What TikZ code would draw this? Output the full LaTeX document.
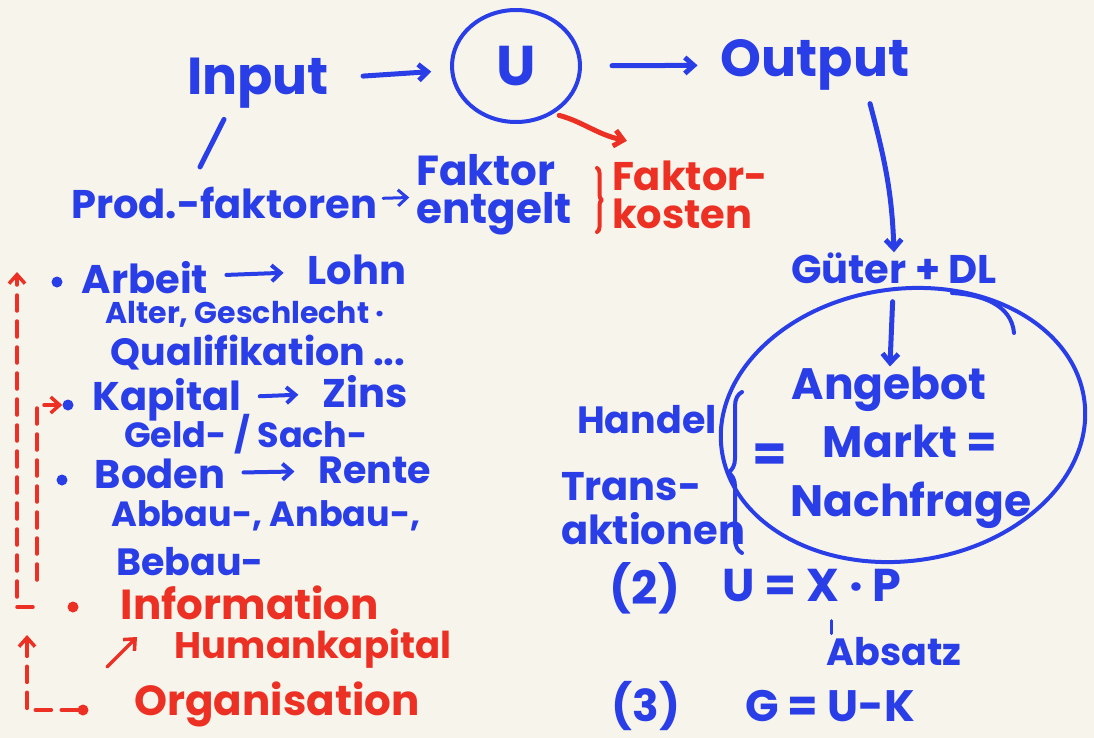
\documentclass[tikz,border=0pt]{standalone}
\usepackage{fontspec}
\setmainfont{Poppins}
\usetikzlibrary{arrows.meta,shapes.geometric,decorations.pathreplacing}
\definecolor{pen}{RGB}{42,62,232}
\definecolor{redpen}{RGB}{236,48,36}
\definecolor{paper}{RGB}{247,245,235}
\begin{document}
\begin{tikzpicture}[x=1pt, y=-1pt, line join=round, line cap=round, >={Straight Barb[length=9pt,width=16pt]},
	hand/.style={inner sep=0pt, text=pen, font=\bfseries\fontsize{#1}{#1}\selectfont}, hand/.default=40,
	two/.style={align=left, font=\bfseries\fontsize{#1}{38}\selectfont}, two/.default=40,
	con/.style={draw=pen, line width=5pt, ->},
	flow/.style={draw=redpen, line width=3.5pt, dash pattern=on 16pt off 10pt, ->},
	dot/.style={circle, inner sep=0pt, minimum size=11pt}]
	 	\fill[paper] (0,0) rectangle (1094,738);
	 	\useasboundingbox (0,0) rectangle (1094,738);
	 	% top row
	 	\node[hand=52] (inp) at (258,83) {Input};
	 	\node[hand=56, draw=pen, line width=4pt, ellipse, minimum width=128pt, minimum height=112pt] (U) at (516,66) {U};
	 	\node[hand=52] (out) at (815,65) {Output};
	 	\node[hand=40] (prod) at (224,203) {Prod.-faktoren};
	 	\node[hand, two=42] (fent) at (494,195) {Faktor\\entgelt};
	 	\node[hand, two=40, text=redpen] (kost) at (690,195) {Faktor-\\kosten};
	 	% market
	 	\node[hand=40] (gut) at (894,268) {Güter + DL};
	 	\node[hand=44] (ang) at (889,389) {Angebot};
	 	\node[hand=44] (mrk) at (910,441) {Markt =};
	 	\node[hand=44] (nach) at (911,505) {Nachfrage};
	 	\node[draw=pen, line width=4pt, ellipse, rotate=8, minimum width=366pt, minimum height=272pt] (mkt) at (903,425) {};
	 	\node[hand=50] (eq) at (770,458) {=};
	 	\node[hand=38] (han) at (647,420) {Handel};
	 	\node[hand, two=40] (trans) at (653,509) {Trans-\\[6pt]aktionen};
	 	\node[hand=46] (n2) at (645,588) {(2)};
	 	\node[hand=46] (e2) at (812,586) {U = X · P};
	 	\node[hand=38] (abs) at (894,652) {Absatz};
	 	\node[hand=44] (n3) at (646,706) {(3)};
	 	\node[hand=44] (e3) at (830,706) {G = U-K};
	 	% factors
	 	\node[hand=40] (arb) at (145,278) {Arbeit};
	 	\node[hand=40] (lohn) at (357,270) {Lohn};
	 	\node[hand=30] (alt) at (245,314) {Alter, Geschlecht ·};
	 	\node[hand=38] (qual) at (258,353) {Qualifikation ...};
	 	\node[hand=40] (kap) at (167,400) {Kapital};
	 	\node[hand=40] (zins) at (365,392) {Zins};
	 	\node[hand=35] (geld) at (246,434) {Geld- / Sach-};
	 	\node[hand=40] (bod) at (160,474) {Boden};
	 	\node[hand=38] (rente) at (375,470) {Rente};
	 	\node[hand=35] (abb) at (266,516) {Abbau-, Anbau-,};
	 	\node[hand=38] (beb) at (190,562) {Bebau-};
	 	\node[hand=42, text=redpen] (inf) at (250,603) {Information};
	 	\node[hand=37, text=redpen] (hum) at (313,649) {Humankapital};
	 	\node[hand=42, text=redpen] (org) at (277,704) {Organisation};
	 	\foreach \n/\x/\y/\c in {arb/57/282/pen, kap/68/405/pen, bod/62/480/pen, inf/73/607/redpen, org/83/710/redpen}
	 		\node[dot, fill=\c] (b\n) at (\x,\y) {};
	 	% connectors
	 	\draw[con, shorten <=34pt, shorten >=19pt] (inp) -- (U);
	 	\draw[con, shorten <=30pt, shorten >=23pt] (U) -- (out);
	 	\draw[pen, line width=5pt] ([xshift=-34pt,yshift=-11pt]inp.south) -- ([xshift=-24pt,yshift=20pt]prod.north);
	 	\draw[con, line width=3pt, shorten <=6pt, shorten >=7pt] (prod) -- (fent);
	 	\draw[redpen, line width=5pt, ->, shorten <=6pt] (U.-52) to[out=-15,in=168] ([xshift=15pt,yshift=20pt]kost.north west);
	 	\draw[redpen, line width=4pt, decorate, decoration={brace, amplitude=5pt}] (597,168) -- (597,232);
	 	\draw[con] ([xshift=55pt,yshift=-13pt]out.south) to[out=-75,in=92] (gut.north);
	 	\draw[con, shorten <=18pt] (gut) -- (ang);
	 	\draw[pen, line width=4pt] (952,293) to[out=-3,in=95] (1014,333);
	 	\draw[pen, line width=4pt, decorate, decoration={brace, amplitude=14pt}] (742,553) -- (742,392);
	 	\draw[pen, line width=3pt] ([xshift=-63pt,yshift=4pt]abs.north) -- ++(0,-13);
	 	\foreach \a/\b in {arb/lohn, kap/zins, bod/rente}
	 		\draw[con, line width=4pt, shorten <=18pt, shorten >=24pt] (\a) -- (\b);
	 	\draw[flow] ([xshift=-40pt]binf.center) -| ([xshift=-40pt,yshift=10pt]barb.center);
	 	\draw[flow] ([xshift=-36pt,yshift=27pt]binf.center) |- (bkap.west);
	 	\draw[flow] (borg.west) -| ([xshift=-46pt,yshift=-28pt]binf.center);
	 	\draw[redpen, line width=3.5pt, ->] ([xshift=34pt,yshift=-60pt]binf.center) -- ([xshift=64pt,yshift=-30pt]binf.center);
\end{tikzpicture}
\end{document}
